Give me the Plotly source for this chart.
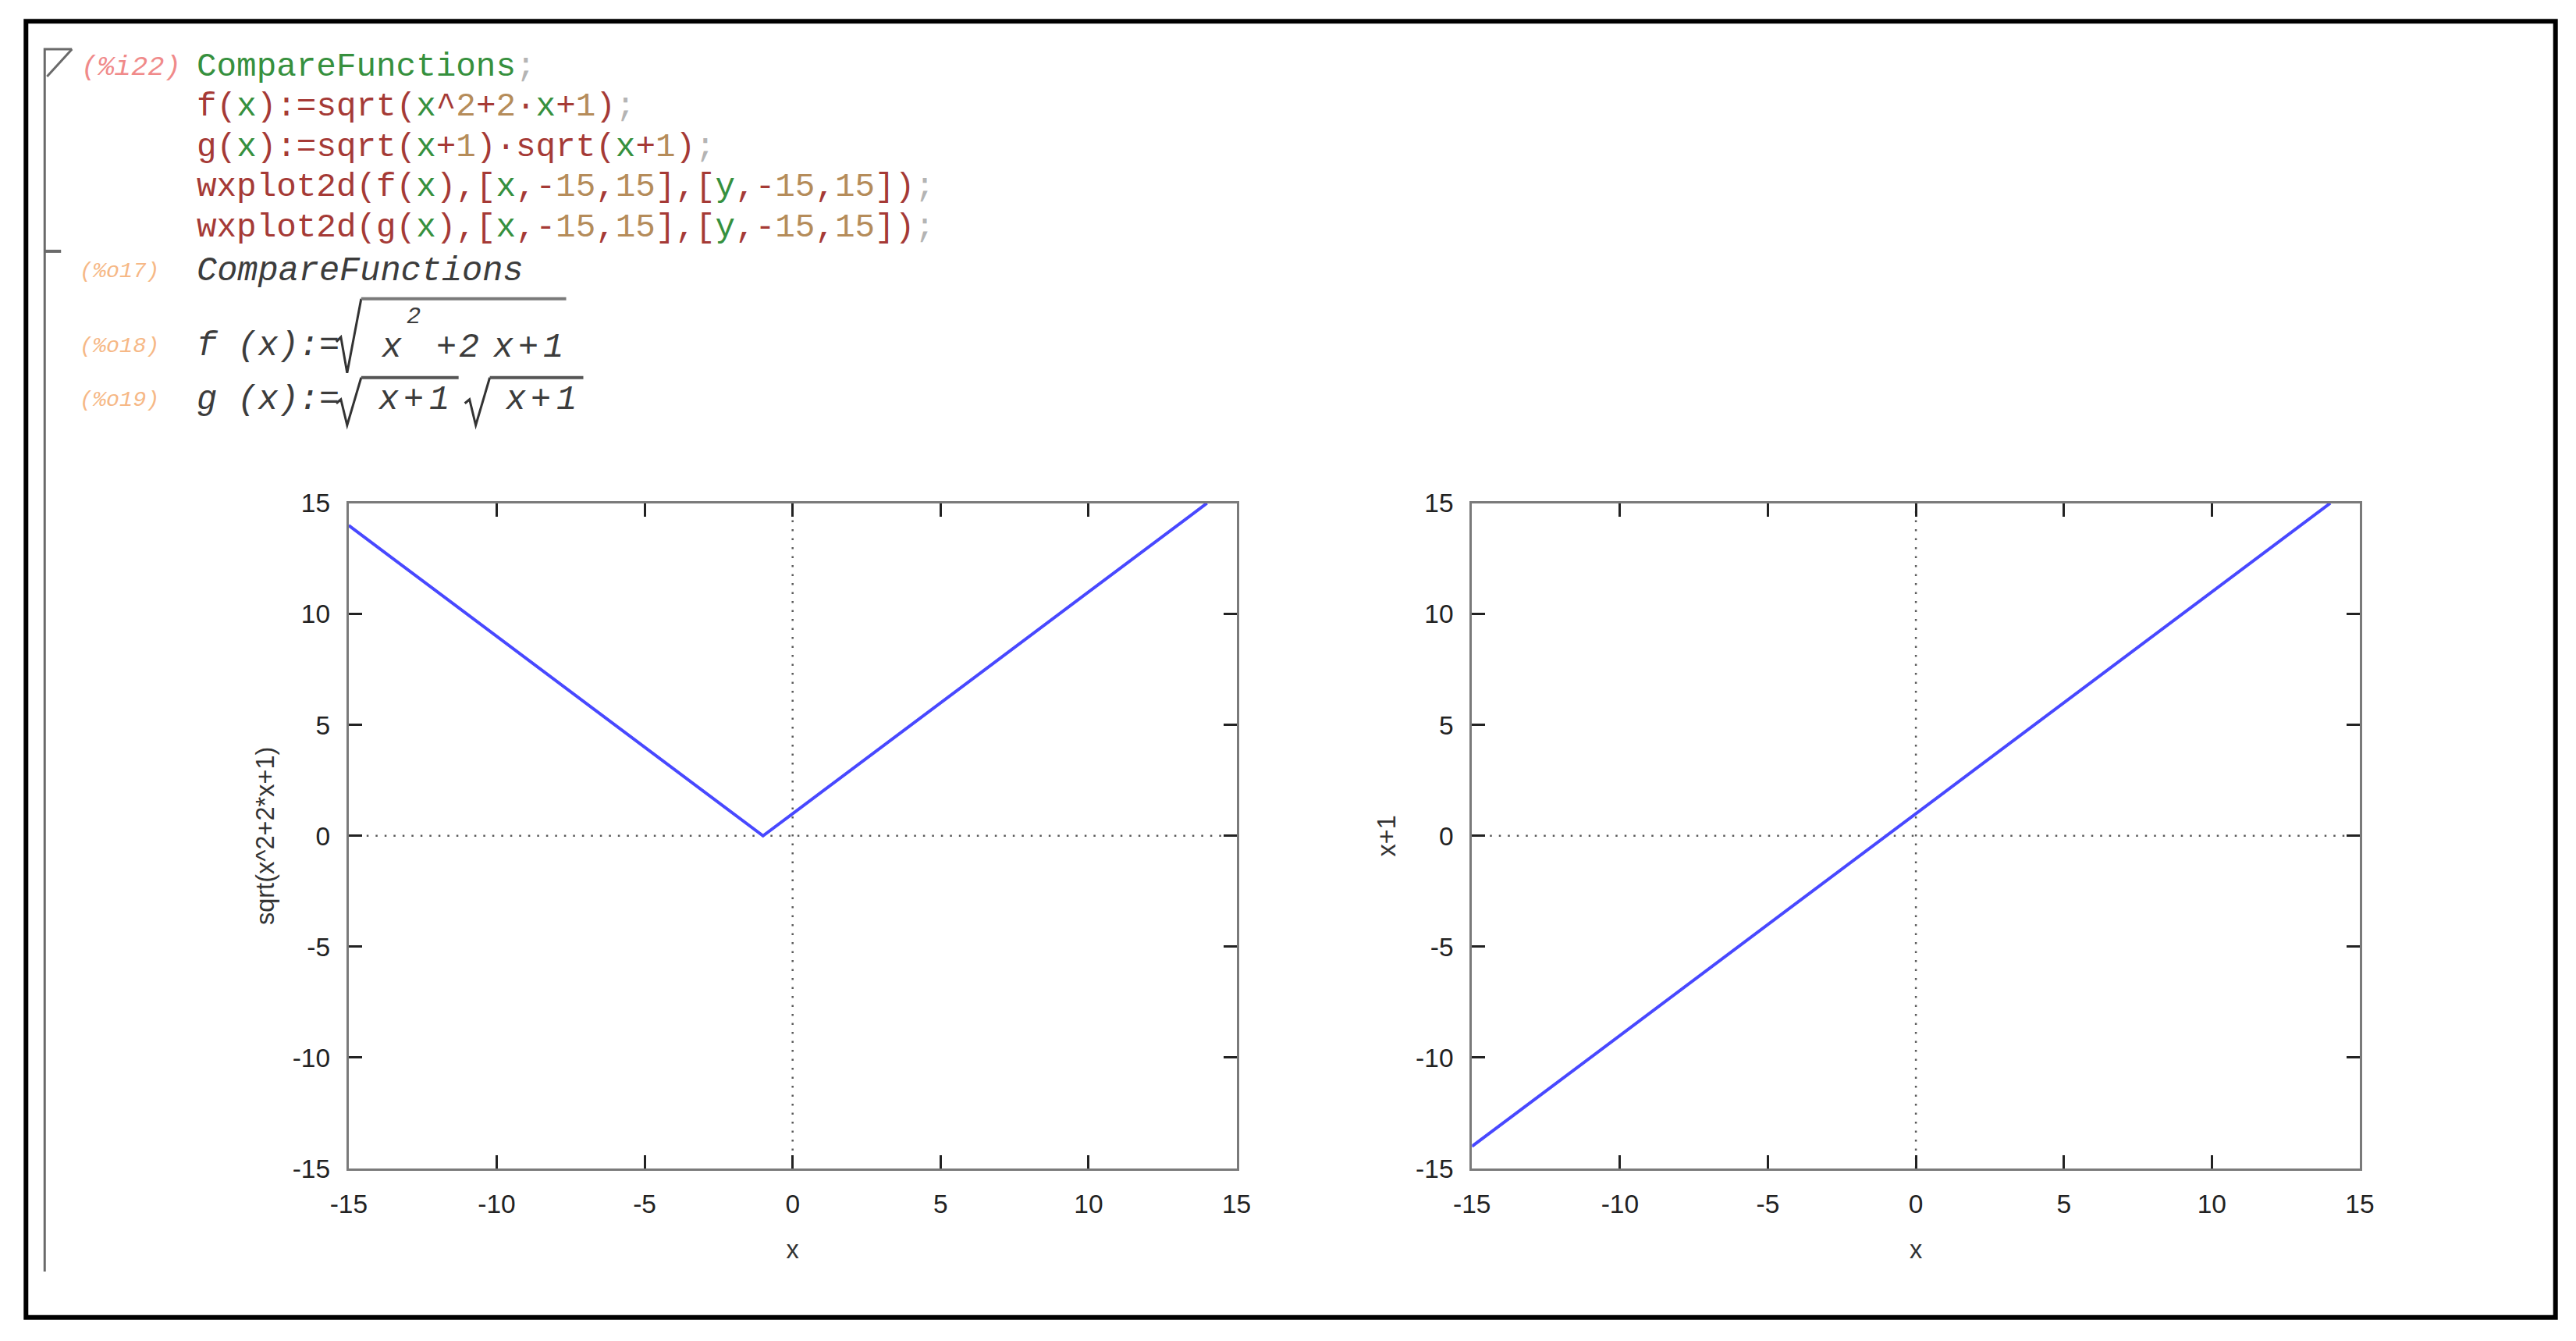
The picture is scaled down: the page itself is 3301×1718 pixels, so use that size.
import re

import plotly.graph_objects as go

# page is 3301x1718; the browser keeps its default 8px body margin,
# so the figure itself is made 16px smaller and all page coordinates are offset
PAGE_W, PAGE_H = 3301, 1718
PAD = 8
W, H = PAGE_W - 2 * PAD, PAGE_H - 2 * PAD
# the photographed page comes out slightly shrunk about its centre; undo that
SX, SY = 0.988, 0.979
FS = 1.015

# curves (vertices of the polylines)
f_x = [-15, -1, 14]
f_y = [14, 0, 15]
g_x = [-15, 14]
g_y = [-14, 15]

x_range = [-15, 15]
y_range = [-15, 15]
tick_vals = [-15, -10, -5, 0, 5, 10, 15]
tick_text = ["-15", "-10", "-5", "0", "5", "10", "15"]

f_ylabel = "sqrt(x^2+2*x+1)"
g_ylabel = "x+1"
x_title = "x"

input_label = "(%i22)"
input_lines = [
    "CompareFunctions;",
    "f(x):=sqrt(x^2+2·x+1);",
    "g(x):=sqrt(x+1)·sqrt(x+1);",
    "wxplot2d(f(x),[x,-15,15],[y,-15,15]);",
    "wxplot2d(g(x),[x,-15,15],[y,-15,15]);",
]
output_labels = ["(%o17)", "(%o18)", "(%o19)"]

C_FUNC = "#a53a36"
C_VAR = "#36903e"
C_NUM = "#b58c5a"
C_EOL = "#b4b4b4"
C_IN = "#f08a8a"
C_OUT = "#f6b886"
C_MATH = "#3c3c3c"
BLUE = "#4848ff"

MONO = "Liberation Mono"
SANS = "Liberation Sans"


def paper(x, y):
    # page pixel (from top-left) -> figure paper fraction
    x = PAGE_W / 2 + (x - PAGE_W / 2) / SX
    y = PAGE_H / 2 + (y - PAGE_H / 2) / SY
    return (x - PAD) / W, 1 - (y - PAD) / H


def fs(size):
    return round(size * FS, 1)


def colorize(line):
    out = []
    for m in re.finditer(r"[A-Za-z][A-Za-z0-9]*|[0-9]+|;|.", line):
        tok = m.group(0)
        rest = line[m.end():]
        if tok[0].isalpha():
            col = C_FUNC if rest.startswith("(") else C_VAR
        elif tok.isdigit():
            col = C_NUM
        elif tok == ";":
            col = C_EOL
        else:
            col = C_FUNC
        out.append(f'<span style="color:{col}">{tok}</span>')
    return "".join(out)


fig = go.Figure()

fig.add_trace(go.Scatter(x=f_x, y=f_y, mode="lines", line=dict(color=BLUE, width=4),
                         xaxis="x", yaxis="y", showlegend=False, hoverinfo="skip"))
fig.add_trace(go.Scatter(x=g_x, y=g_y, mode="lines", line=dict(color=BLUE, width=4),
                         xaxis="x2", yaxis="y2", showlegend=False, hoverinfo="skip"))

left_dom = [paper(443, 0)[0], paper(1582, 0)[0]]
right_dom = [paper(1884, 0)[0], paper(3023, 0)[0]]
y_dom = [paper(0, 1498)[1], paper(0, 645)[1]]

axis_common = dict(
    tickmode="array", tickvals=tick_vals, ticktext=tick_text,
    ticks="inside", ticklen=17, tickwidth=3, tickcolor="#222222",
    showline=True, linecolor="#7a7a7a", linewidth=3, mirror="ticks",
    showgrid=False, zeroline=False, ticklabelstandoff=14,
    tickfont=dict(family=SANS, size=fs(33), color="#222222"),
    title_font=dict(family=SANS, size=fs(32), color="#333333"),
)

fig.update_layout(
    width=W, height=H,
    margin=dict(l=0, r=0, t=0, b=0),
    paper_bgcolor="white", plot_bgcolor="white",
    xaxis=dict(domain=left_dom, range=x_range, anchor="y",
               title=dict(text=x_title, standoff=30), **axis_common),
    yaxis=dict(domain=y_dom, range=y_range, anchor="x",
               title=dict(text=f_ylabel, standoff=14), **axis_common),
    xaxis2=dict(domain=right_dom, range=x_range, anchor="y2",
                title=dict(text=x_title, standoff=30), **axis_common),
    yaxis2=dict(domain=y_dom, range=y_range, anchor="x2",
                title=dict(text=g_ylabel, standoff=16), **axis_common),
)

shapes = []
# dotted zero axes in both panels
for xa, ya in [("x", "y"), ("x2", "y2")]:
    dot = dict(color="#5a5a5a", width=2.5, dash="2.5px,9px")
    shapes.append(dict(type="line", xref=xa, yref=f"{ya} domain", x0=0, x1=0, y0=0, y1=1,
                       line=dot, layer="below"))
    shapes.append(dict(type="line", xref=f"{xa} domain", yref=ya, x0=0, x1=1, y0=0, y1=0,
                       line=dot, layer="below"))

# outer black frame
fx0, fy0 = paper(29, 27)
fx1, fy1 = paper(3274, 1689)
shapes.append(dict(type="rect", xref="paper", yref="paper", x0=fx0, x1=fx1, y0=fy1, y1=fy0,
                   line=dict(color="black", width=6)))


def path(points, color, width):
    d = ""
    for i, (px_, py_) in enumerate(points):
        x, y = paper(px_, py_)
        d += ("M" if i == 0 else "L") + f"{x:.5f},{y:.5f} "
    return dict(type="path", xref="paper", yref="paper", path=d.strip(),
                line=dict(color=color, width=width))


# cell bracket with its triangle and output tick
shapes.append(path([(88, 63), (53, 63), (53, 1630)], "#6a6a6a", 3))
shapes.append(path([(88, 63), (56, 98)], "#6a6a6a", 3))
shapes.append(path([(53, 322), (74, 322)], "#6a6a6a", 4))

# radicals in the displayed output
shapes.append(path([(427, 438), (433, 432), (441, 478), (459, 383)], "#333333", 3))
shapes.append(path([(459, 383), (722, 383)], "#7a7a7a", 4))
shapes.append(path([(427, 517), (433, 512), (441, 545), (459, 484)], "#333333", 3))
shapes.append(path([(459, 484), (584, 484)], "#555555", 4))
shapes.append(path([(592, 517), (598, 512), (606, 545), (624, 484)], "#333333", 3))
shapes.append(path([(624, 484), (744, 484)], "#555555", 4))

fig.update_layout(shapes=shapes)

ann = []


def text(x, y, s, size, color, family=MONO, anchor="left", italic=False):
    px_, py_ = paper(x, y)
    ann.append(dict(x=px_, y=py_, xref="paper", yref="paper", text=s, showarrow=False,
                    xanchor=anchor, yanchor="middle",
                    font=dict(family=family, size=fs(size), color=color,
                              style="italic" if italic else "normal")))


def placed(y, items, size, color):
    for x, ch in items:
        text(x, y, ch, size, color, italic=True)


row_y = [86, 137, 189, 240, 292]
text(230, row_y[0], input_label, 35, C_IN, italic=True, anchor="right")
for yy, line in zip(row_y, input_lines):
    text(246, yy, colorize(line), 42, C_FUNC)

out_y = [348, 444, 513]
for yy, lab in zip(out_y, output_labels):
    text(202, yy, lab, 28, C_OUT, italic=True, anchor="right")

text(246, out_y[0], "CompareFunctions", 43, C_MATH, italic=True)
text(246, out_y[1], "f\u00a0(x):=", 43, C_MATH, italic=True)
text(482, out_y[1] + 2, "x", 43, C_MATH, italic=True)
text(515, 406, "2", 30, C_MATH, italic=True)
placed(out_y[1] + 2, [(553, "+"), (582, "2"), (625, "x"), (658, "+"), (690, "1")], 43, C_MATH)
text(246, out_y[2], "g\u00a0(x):=", 43, C_MATH, italic=True)
placed(out_y[2], [(478, "x"), (511, "+"), (544, "1")], 43, C_MATH)
placed(out_y[2], [(641, "x"), (674, "+"), (707, "1")], 43, C_MATH)

fig.update_layout(annotations=ann)

fig.write_html("out.html", config={"displayModeBar": False})
